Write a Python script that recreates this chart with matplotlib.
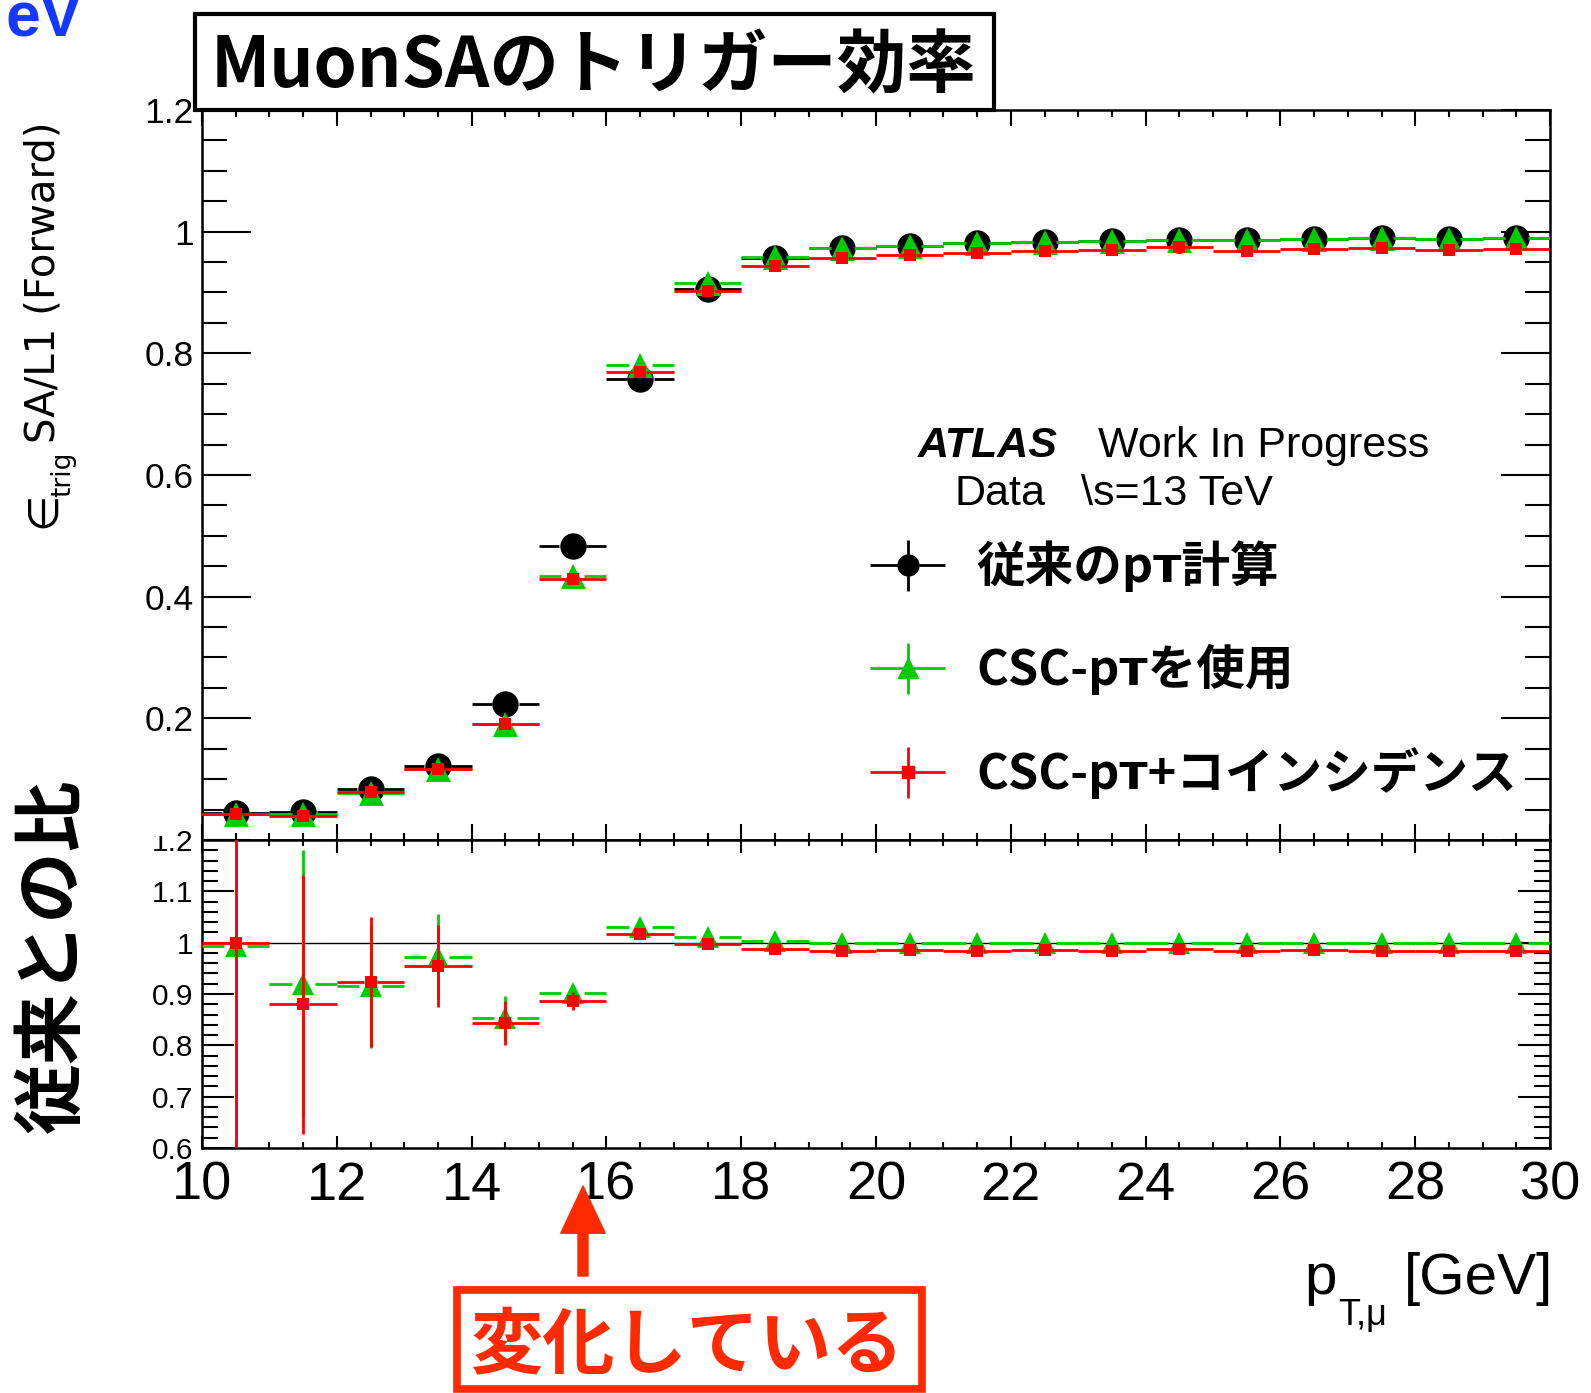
import numpy as np
import matplotlib
matplotlib.use('Agg')
import matplotlib.pyplot as plt
from matplotlib.patches import Rectangle, FancyArrowPatch
from matplotlib.ticker import MultipleLocator, FuncFormatter
from matplotlib.container import ErrorbarContainer
from matplotlib.legend_handler import HandlerErrorbar

plt.rcParams['font.family'] = ['Liberation Sans', 'DejaVu Sans']

JP = ['Noto Sans CJK JP', 'DejaVu Sans']

# ---- data ----
pt_bins = [10.5, 11.5, 12.5, 13.5, 14.5, 15.5, 16.5, 17.5, 18.5, 19.5,
           20.5, 21.5, 22.5, 23.5, 24.5, 25.5, 26.5, 27.5, 28.5, 29.5]
bin_width = 1.0

eff_old = [0.045, 0.046, 0.084, 0.121, 0.224, 0.484, 0.757, 0.905, 0.956, 0.973,
           0.977, 0.981, 0.983, 0.985, 0.987, 0.987, 0.988, 0.989, 0.988, 0.989]
eff_csc = [0.043, 0.042, 0.077, 0.117, 0.191, 0.434, 0.781, 0.916, 0.959, 0.973,
           0.977, 0.981, 0.983, 0.985, 0.987, 0.987, 0.988, 0.989, 0.988, 0.989]
eff_coin = [0.043, 0.040, 0.079, 0.116, 0.190, 0.429, 0.770, 0.903, 0.944, 0.957,
            0.962, 0.965, 0.968, 0.970, 0.974, 0.969, 0.972, 0.973, 0.970, 0.971]
eff_err = [0.008, 0.008, 0.008, 0.008, 0.008, 0.006, 0.005, 0.003, 0.002, 0.002,
           0.002, 0.002, 0.002, 0.002, 0.002, 0.002, 0.002, 0.002, 0.002, 0.002]

ratio_csc = [0.993, 0.920, 0.915, 0.973, 0.854, 0.901, 1.030, 1.011, 1.004, 1.000,
             1.000, 0.999, 1.000, 1.000, 1.000, 1.000, 1.000, 1.000, 1.000, 1.000]
ratio_csc_err = [0.60, 0.26, 0.12, 0.083, 0.043, 0.014, 0.008, 0.005, 0.004, 0.004,
                 0.004, 0.004, 0.004, 0.004, 0.004, 0.004, 0.004, 0.004, 0.004, 0.004]
ratio_coin = [1.000, 0.880, 0.923, 0.954, 0.843, 0.886, 1.016, 0.997, 0.988, 0.983,
              0.986, 0.983, 0.985, 0.984, 0.988, 0.983, 0.986, 0.984, 0.983, 0.984]
ratio_coin_err = [0.60, 0.252, 0.127, 0.080, 0.043, 0.017, 0.008, 0.005, 0.004, 0.004,
                  0.004, 0.004, 0.004, 0.004, 0.004, 0.004, 0.004, 0.004, 0.004, 0.004]

labels = ['従来のpᴛ計算', 'CSC-pᴛを使用', 'CSC-pᴛ+コインシデンス']
c_old, c_csc, c_coin = 'black', '#00cc00', '#ff0000'
LW = 2.0


def draw_points(ax, x, y, err, color, marker, ms, gap, z):
    x = np.array(x)
    y = np.array(y)
    err = np.array(err)
    # ROOT style: horizontal bin bar with a gap where the marker sits
    ax.hlines(y, x - bin_width / 2, x - gap, colors=color, lw=LW, zorder=z)
    ax.hlines(y, x + gap, x + bin_width / 2, colors=color, lw=LW, zorder=z)
    ax.vlines(x, y - err, y + err, colors=color, lw=LW, zorder=z)
    ax.plot(x, y, ls='none', marker=marker, ms=ms, color=color, mec=color, mew=0, zorder=z + 0.5)


W, H = 1591, 1393
fig = plt.figure(figsize=(W / 100, H / 100), dpi=100)
fig.patch.set_facecolor('white')

ax1 = fig.add_axes([202 / W, 1 - 840 / H, 1348 / W, 730 / H])
ax2 = fig.add_axes([202 / W, 1 - 1148 / H, 1348 / W, 308 / H], sharex=ax1)

# top panel
draw_points(ax1, pt_bins, eff_old, eff_err, c_old, 'o', 19, 0.2, 3)
draw_points(ax1, pt_bins, eff_csc, eff_err, c_csc, '^', 18, 0.17, 4)
draw_points(ax1, pt_bins, eff_coin, eff_err, c_coin, 's', 9, 0.09, 5)

ax1.set_xlim(10, 30)
ax1.set_ylim(0, 1.2)

# ratio panel
ax2.axhline(1.0, color='black', lw=1.0, zorder=2)
draw_points(ax2, pt_bins, ratio_csc, ratio_csc_err, c_csc, '^', 16, 0.17, 4)
draw_points(ax2, pt_bins, ratio_coin, ratio_coin_err, c_coin, 's', 9, 0.09, 5)
ax2.set_ylim(0.6, 1.2)

for ax in (ax1, ax2):
    for sp in ax.spines.values():
        sp.set_linewidth(1.8)
    ax.tick_params(which='both', direction='in', top=True, right=True, width=1.5, colors='black')
    ax.xaxis.set_major_locator(MultipleLocator(2))
    ax.xaxis.set_minor_locator(MultipleLocator(0.5))

ax1.yaxis.set_major_locator(MultipleLocator(0.2))
ax1.yaxis.set_minor_locator(MultipleLocator(0.05))
ax1.yaxis.set_major_formatter(FuncFormatter(lambda v, p: '' if abs(v) < 1e-6 else '%g' % v))
ax1.tick_params(axis='y', which='major', length=35, labelsize=25.5, pad=6)
ax1.tick_params(axis='y', which='minor', length=18)
ax1.tick_params(axis='x', which='major', length=11.5, labelbottom=False)
ax1.tick_params(axis='x', which='minor', length=5)

ax2.yaxis.set_major_locator(MultipleLocator(0.1))
ax2.yaxis.set_minor_locator(MultipleLocator(0.02))
ax2.yaxis.set_major_formatter(FuncFormatter(lambda v, p: '%g' % round(v, 2)))
ax2.tick_params(axis='y', which='major', length=23, labelsize=21.5, pad=6)
ax2.tick_params(axis='y', which='minor', length=11.5)
ax2.tick_params(axis='x', which='major', length=9, labelsize=39, pad=9)
ax2.tick_params(axis='x', which='minor', length=4.3)

# legend (proxy error-bar handles)
h_old = ax1.errorbar([np.nan], [np.nan], xerr=[0.5], yerr=[0.5], fmt='o', color=c_old,
                     ms=15, elinewidth=LW, capsize=0)
h_csc = ax1.errorbar([np.nan], [np.nan], xerr=[0.5], yerr=[0.5], fmt='^', color=c_csc,
                     ms=15, elinewidth=LW, capsize=0)
h_coin = ax1.errorbar([np.nan], [np.nan], xerr=[0.5], yerr=[0.5], fmt='s', color=c_coin,
                      ms=8, elinewidth=LW, capsize=0)
leg = ax1.legend([h_old, h_csc, h_coin], labels, loc='center left',
                 bbox_to_anchor=(869 / W, 1 - 670 / H), bbox_transform=fig.transFigure,
                 frameon=False, borderpad=0, borderaxespad=0, handlelength=1.6,
                 handletextpad=0.6, labelspacing=1.07,
                 prop={'family': JP, 'weight': 'bold', 'size': 35},
                 handler_map={ErrorbarContainer: HandlerErrorbar(xerr_size=0.77, yerr_size=0.52)})

# ATLAS label
fig.text(918 / W, 1 - 457 / H, 'ATLAS', fontsize=31, fontweight='bold', fontstyle='italic')
fig.text(1098 / W, 1 - 457 / H, 'Work In Progress', fontsize=31)
fig.text(954 / W, 1 - 505 / H, 'Data', fontsize=31)
fig.text(1081 / W, 1 - 505 / H, '\\s=13 TeV', fontsize=31)

# y axis title of the upper panel (epsilon, subscript, rest)
fig.text(43 / W, 1 - 510 / H, '∈', rotation=90, ha='center', va='center',
         fontsize=30, family='DejaVu Sans')
fig.text(63 / W, 1 - 474 / H, 'trig', rotation=90, ha='center', va='center',
         fontsize=19, family='DejaVu Sans')
fig.text(44 / W, 1 - 443 / H, 'SA/L1 (Forward)', rotation=90, ha='center', va='bottom',
         fontsize=29, family='DejaVu Sans')

# y axis title of the ratio panel
fig.text(53 / W, 1 - 956 / H, '従来との比', rotation=90, ha='center', va='center',
         fontsize=51, fontweight='bold', family=JP)

# x axis title
fig.text(1553 / W, 1 - 1294 / H, '[GeV]', ha='right', va='baseline', fontsize=42)
fig.text(1304 / W, 1 - 1294 / H, 'p', ha='left', va='baseline', fontsize=42)
fig.text(1338 / W, 1 - 1325 / H, 'T,μ', ha='left', va='baseline', fontsize=26)

# the upper pad hides the top of the ratio panel's "1.2" label
fig.add_artist(Rectangle((150 / W, 1 - 836 / H), 20 / W, 20 / H, transform=fig.transFigure,
                         facecolor='white', edgecolor='none', zorder=10))

# title box
fig.add_artist(Rectangle((195 / W, 1 - 110 / H), 799 / W, 96 / H, transform=fig.transFigure,
                         facecolor='white', edgecolor='black', lw=3, zorder=11))
fig.text(594 / W, 1 - 67 / H, 'MuonSAのトリガー効率', ha='center', va='center',
         fontsize=50, fontweight='bold', family=JP, zorder=12)

# leftover slide text
fig.text(5 / W, 1 - 35 / H, 'eV', color='#1438ff', fontsize=45, fontweight='bold',
         va='baseline', ha='left')

# annotation arrow and box
red_note = '#ff2a00'
fig.add_artist(FancyArrowPatch((583 / W, 1 - 1276 / H), (583 / W, 1 - 1186 / H),
                               transform=fig.transFigure,
                               arrowstyle='simple,head_length=3.4,head_width=3.2,tail_width=0.72',
                               mutation_scale=10, color=red_note, shrinkA=0, shrinkB=0, zorder=12))
fig.add_artist(Rectangle((457 / W, 1 - 1389 / H), 465 / W, 99 / H, transform=fig.transFigure,
                         facecolor='white', edgecolor=red_note, lw=5.5, zorder=11))
fig.text(688 / W, 1 - 1346 / H, '変化している', ha='center', va='center', color=red_note,
         fontsize=52, fontweight='bold', family=JP, zorder=12)

fig.savefig('out.png', dpi=100, facecolor='white')
